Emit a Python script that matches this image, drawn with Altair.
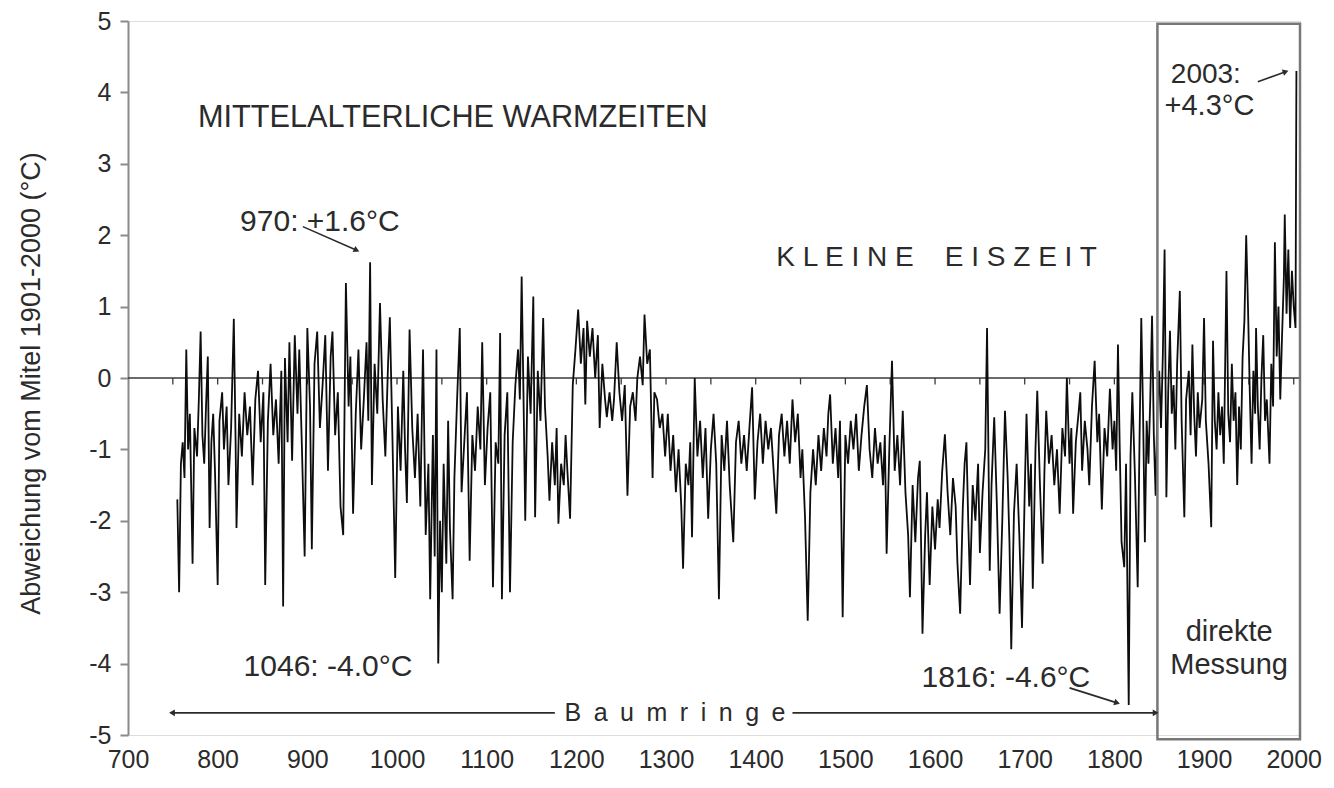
import altair as alt
import pandas as pd

# ---------------- data ----------------
years = [
    755, 757, 759, 761, 763, 765, 767, 769, 772, 774,
    777, 779, 781, 783, 785, 787, 789, 791, 793, 795,
    797, 800, 802, 805, 807, 810, 812, 815, 818, 820,
    821, 824, 827, 830, 833, 836, 839, 842, 845, 848,
    851, 853, 856, 859, 862, 865, 868, 871, 873, 875,
    878, 880, 883, 886, 889, 891, 894, 897, 900, 903,
    905, 908, 911, 914, 917, 920, 923, 926, 928, 931,
    934, 937, 940, 943, 946, 948, 951, 954, 957, 960,
    963, 966, 968, 970, 972, 975, 978, 981, 984, 987,
    990, 992, 995, 998, 1001, 1004, 1007, 1009, 1011, 1014,
    1017, 1020, 1023, 1026, 1029, 1032, 1035, 1037, 1040, 1042,
    1044, 1046, 1048, 1050, 1052, 1055, 1057, 1059, 1062, 1064,
    1067, 1070, 1072, 1075, 1078, 1081, 1084, 1087, 1090, 1093,
    1095, 1098, 1101, 1104, 1107, 1110, 1113, 1115, 1117, 1120,
    1123, 1126, 1129, 1132, 1135, 1137, 1139, 1141, 1143, 1146,
    1149, 1152, 1154, 1157, 1160, 1163, 1165, 1168, 1170, 1173,
    1176, 1178, 1180, 1183, 1186, 1188, 1190, 1193, 1196, 1199,
    1202, 1205, 1208, 1210, 1212, 1215, 1218, 1221, 1224, 1226,
    1229, 1232, 1234, 1237, 1240, 1242, 1245, 1248, 1251, 1254,
    1257, 1260, 1263, 1266, 1268, 1271, 1274, 1276, 1279, 1282,
    1285, 1287, 1290, 1293, 1296, 1299, 1302, 1305, 1308, 1311,
    1314, 1317, 1319, 1322, 1325, 1327, 1329, 1332, 1335, 1338,
    1341, 1344, 1347, 1350, 1353, 1356, 1359, 1362, 1365, 1368,
    1371, 1375, 1378, 1381, 1384, 1387, 1390, 1393, 1396, 1399,
    1402, 1405, 1408, 1411, 1414, 1417, 1420, 1423, 1426, 1429,
    1432, 1435, 1438, 1441, 1444, 1447, 1450, 1452, 1455, 1458,
    1461, 1464, 1467, 1470, 1473, 1476, 1479, 1481, 1483, 1486,
    1489, 1492, 1494, 1497, 1500, 1503, 1506, 1509, 1512, 1515,
    1518, 1521, 1524, 1527, 1530, 1533, 1536, 1539, 1542, 1544,
    1546, 1549, 1552, 1555, 1558, 1561, 1564, 1567, 1570, 1572,
    1575, 1578, 1581, 1583, 1586, 1589, 1591, 1594, 1597, 1600,
    1603, 1605, 1608, 1611, 1614, 1617, 1620, 1623, 1625, 1628,
    1631, 1633, 1635, 1637, 1639, 1642, 1645, 1648, 1650, 1653,
    1656, 1658, 1661, 1663, 1666, 1669, 1672, 1675, 1678, 1681,
    1683, 1685, 1688, 1691, 1694, 1697, 1700, 1702, 1705, 1707,
    1709, 1712, 1714, 1717, 1720, 1722, 1724, 1727, 1730, 1733,
    1736, 1739, 1742, 1745, 1747, 1750, 1752, 1754, 1757, 1760,
    1762, 1764, 1767, 1770, 1772, 1775, 1778, 1781, 1783, 1786,
    1789, 1792, 1795, 1798, 1800, 1802, 1804, 1806, 1808, 1811,
    1813, 1816, 1818, 1820, 1823, 1826, 1828, 1830, 1832, 1834,
    1836, 1838, 1840, 1842, 1844, 1846, 1848, 1850, 1852, 1854,
    1856, 1858, 1860, 1862, 1864, 1866, 1868, 1870, 1873, 1875,
    1878, 1880, 1883, 1885, 1887, 1889, 1891, 1893, 1895, 1898,
    1900, 1902, 1905, 1908, 1910, 1912, 1914, 1916, 1918, 1920,
    1922, 1925, 1927, 1929, 1931, 1933, 1935, 1937, 1939, 1941,
    1943, 1945, 1947, 1949, 1951, 1953, 1955, 1957, 1958, 1960,
    1962, 1964, 1966, 1968, 1970, 1973, 1975, 1977, 1979, 1981,
    1983, 1985, 1987, 1989, 1990, 1992, 1994, 1996, 1998, 2000,
    2002, 2003,
]

temps = [
    -1.7, -3.0, -1.2, -0.9, -1.4, 0.4, -1.0, -0.5, -2.6, -0.7,
    -1.1, -0.3, 0.65, -0.8, -1.2, -0.4, 0.3, -2.1, -0.9, -0.5,
    -1.3, -2.9, -0.6, -0.2, -1.0, -0.4, -1.5, -0.7, 0.83, -0.9,
    -2.1, -0.5, -1.1, -0.2, -0.8, -0.4, -1.5, -0.3, 0.1, -0.9,
    -0.2, -2.9, -0.6, 0.2, -0.8, -0.3, -1.2, 0.1, -3.2, 0.28,
    -0.9, 0.5, -1.16, 0.6, -0.5, 0.4, -1.0, -2.5, 0.7, -0.4,
    -2.4, 0.2, 0.65, -0.7, -0.1, 0.6, -1.3, 0.3, 0.65, -0.8,
    -0.2, -1.8, -2.2, 1.33, -0.4, 0.3, -1.9, -0.5, 0.4, -1.0,
    -0.3, 0.5, -0.6, 1.62, -1.5, 0.2, -0.5, 1.05, -0.3, -1.1,
    0.2, 0.85, -0.9, -2.8, -0.4, -1.3, 0.1, -1.0, -1.75, 0.68,
    -0.7, -1.4, -0.5, -1.8, 0.4, -2.2, -1.2, -3.1, -0.8, -2.5,
    0.4, -4.0, -2.0, -3.0, -1.2, -2.6, -0.6, -2.1, -3.1, -1.4,
    -0.3, 0.7, -1.6, -0.9, -0.2, -2.56, -0.8, -1.3, -0.4, -1.0,
    0.5, -1.5, -0.7, -0.2, -2.93, -0.9, -1.2, 0.63, -3.1, -0.8,
    -0.2, -3.0, -0.9, -0.1, 0.4, -0.3, 1.42, -0.2, -2.0, 0.3,
    -0.5, 1.14, -1.95, 0.1, -0.6, 0.84, -0.4, -1.1, -1.72, -0.9,
    -1.5, -0.7, -2.04, -1.2, -1.5, -0.8, -1.3, -1.97, -0.1, 0.4,
    0.96, 0.2, 0.7, -0.37, 0.8, 0.3, 0.7, 0.0, 0.6, -0.7,
    0.2, -0.3, -0.55, -0.2, -0.6, -0.3, 0.5, -0.2, -0.6, -0.1,
    -1.65, -0.4, -0.2, -0.6, 0.0, 0.3, -0.1, 0.89, 0.2, 0.4,
    -1.4, -0.2, -0.3, -0.7, -0.5, -1.1, -0.5, -1.3, -0.8, -1.6,
    -1.0, -1.8, -2.67, -1.2, -1.5, -0.9, -2.23, 0.0, -1.1, -0.6,
    -1.4, -0.7, -1.97, -1.0, -0.5, -1.2, -3.1, -0.8, -1.3, -0.6,
    -1.5, -2.3, -0.9, -0.6, -1.2, -0.8, -1.3, -0.7, -0.13, -1.7,
    -0.9, -0.5, -1.2, -0.6, -1.0, -0.7, -1.3, -1.9, -0.8, -0.5,
    -1.1, -0.6, -1.2, -0.3, -0.9, -0.5, -1.4, -1.0, -1.95, -3.4,
    -1.6, -1.0, -1.5, -0.8, -1.3, -0.7, -1.1, -0.5, -0.23, -1.2,
    -0.7, -1.4, -0.6, -3.35, -0.8, -1.2, -0.6, -1.0, -0.5, -1.3,
    -0.8, -0.4, -0.1, -1.0, -1.4, -0.7, -1.2, -0.9, -1.5, -0.8,
    -2.46, -1.0, 0.24, -1.3, -0.8, -1.5, -0.46, -1.6, -2.2, -3.07,
    -1.5, -2.3, -1.4, -1.16, -3.58, -2.2, -1.6, -2.9, -1.8, -2.4,
    -1.7, -2.1, -1.3, -0.79, -1.6, -2.2, -1.4, -1.8, -2.6, -3.3,
    -1.8, -1.2, -0.9, -2.0, -2.9, -1.5, -2.0, -1.2, -2.45, -1.6,
    -1.0, 0.7, -2.7, -1.5, -0.55, -1.8, -3.3, -2.0, -0.46, -1.4,
    -2.3, -3.8, -1.9, -1.2, -2.2, -3.5, -1.6, -0.5, -1.8, -1.2,
    -2.95, -1.0, -0.18, -1.5, -2.6, -1.3, -0.46, -1.2, -0.8, -1.5,
    -1.0, -1.9, -0.7, -1.1, 0.0, -1.2, -0.7, -1.9, -0.9, -0.5,
    -0.2, -1.3, -0.6, -1.0, -1.5, -0.4, 0.24, -0.9, -0.5, -1.84,
    -0.7, -1.1, -0.15, -1.0, -0.6, -1.3, 0.47, -1.0, -2.3, -2.65,
    -1.2, -4.58, -1.1, -0.2, -1.4, -2.93, -0.9, 0.84, -0.5, -2.3,
    -0.6, -1.2, -0.3, 0.87, -0.8, -1.65, -0.4, 0.1, -0.7, 0.3,
    1.8, -1.67, -0.2, 0.66, -0.5, -0.1, -1.0, 0.2, 1.22, -0.6,
    -1.95, -0.3, 0.1, -0.8, 0.47, -0.5, -1.1, -0.2, -0.7, -0.3,
    0.84, -0.6, -1.2, -2.09, 0.52, -0.6, -1.0, -0.2, -0.8, -0.4,
    -1.2, 1.5, -0.5, -0.9, 0.2, -0.6, -0.2, -1.5, -0.4, -1.0,
    0.3, 0.8, 2.0, 1.0, -0.2, -1.2, 0.1, -0.5, 0.7, -0.4,
    -1.0, 0.0, 0.6, -0.6, -0.3, -1.2, 0.2, -0.4, 1.9, 0.3,
    1.0, -0.3, 0.6, 1.4, 2.29, 0.9, 1.8, 0.7, 1.5, 1.0,
    0.7, 4.3,
]

x_label_years = [700, 800, 900, 1000, 1100, 1200, 1300, 1400,
                 1500, 1600, 1700, 1800, 1900, 2000]
zero_tick_years = [750, 800, 850, 900, 950, 1000, 1050, 1100, 1150, 1200,
                   1250, 1300, 1350, 1400, 1450, 1500, 1550, 1600, 1650,
                   1700, 1750, 1800, 1850, 1900, 1950, 2000]
y_tick_values = [-5, -4, -3, -2, -1, 0, 1, 2, 3, 4, 5]

# annotations (text, year position, value position, font size)
ann_text = ["970: +1.6°C", "1046: -4.0°C", "1816: -4.6°C",
            "2003:", "+4.3°C", "direkte", "Messung"]
ann_x = [914, 923, 1679, 1902, 1906, 1928, 1928]
ann_y = [2.19, -4.05, -4.2, 4.25, 3.81, -3.56, -4.02]
ann_size = [30, 30, 30, 28, 29, 29, 29]

title_warm = "MITTELALTERLICHE WARMZEITEN"
title_cold = "K L E I N E\u00a0\u00a0\u00a0\u00a0E I S Z E I T"
title_rings = "B\u2002a\u2002u\u2002m\u2002r\u2002i\u2002n\u2002g\u2002e"

# arrows: start/end points in data coordinates, head angle
arr_x1 = [895, 1750, 1960, 1176, 1441]
arr_y1 = [2.12, -4.34, 4.15, -4.69, -4.69]
arr_x2 = [955, 1803, 1991, 749, 1846]
arr_y2 = [1.79, -4.55, 4.29, -4.69, -4.69]
arr_angle = [24, 18, 340, 180, 0]

# box of direct measurements
box_x = [1848, 2007]
box_y = [4.96, -5.06]

# ---------------- chart ----------------
FONT = "Liberation Sans, Arial, sans-serif"
TXT = "#2b2b2b"
GRAY = "#8a8a8a"

X_DOM = [700, 2007]
Y_DOM = [-5, 5]

series = pd.DataFrame({"year": years, "temp": temps})

xs = alt.Scale(domain=X_DOM, nice=False, zero=False)
ys = alt.Scale(domain=Y_DOM, nice=False, zero=False)

line = alt.Chart(series).mark_line(color="#0d0d0d", strokeWidth=1.8).encode(
    x=alt.X("year:Q", scale=xs,
            axis=alt.Axis(values=x_label_years, labelExpr="datum.value + ''",
                          ticks=False, domain=False, grid=False, title=None,
                          labelFontSize=25, labelFont=FONT, labelColor=TXT,
                          labelPadding=12, labelFlush=False)),
    y=alt.Y("temp:Q", scale=ys,
            axis=alt.Axis(values=y_tick_values, labelExpr="datum.value + ''",
                          grid=False,
                          tickSize=8, tickWidth=2, tickColor=GRAY,
                          domainColor=GRAY, domainWidth=2,
                          labelFontSize=25, labelFont=FONT, labelColor=TXT,
                          labelPadding=9,
                          title="Abweichung vom Mitel 1901-2000 (°C)",
                          titleFont=FONT, titleFontSize=27,
                          titleFontWeight="normal", titleColor=TXT,
                          titleAngle=270, titleX=-97, titleY=362,
                          titleAlign="center", titleBaseline="middle")),
)

zero_df = pd.DataFrame({"x0": [X_DOM[0]], "x1": [X_DOM[1]], "y": [0]})
zero_line = alt.Chart(zero_df).mark_rule(color="#3a3a3a", strokeWidth=1.6).encode(
    x=alt.X("x0:Q", scale=xs), x2="x1:Q", y=alt.Y("y:Q", scale=ys))

ticks_df = pd.DataFrame({"year": zero_tick_years,
                         "y0": [0] * len(zero_tick_years),
                         "y1": [-0.09] * len(zero_tick_years)})
zero_ticks = alt.Chart(ticks_df).mark_rule(color="#3a3a3a", strokeWidth=1.3).encode(
    x=alt.X("year:Q", scale=xs), y=alt.Y("y0:Q", scale=ys), y2="y1:Q")

box_df = pd.DataFrame({"x0": [box_x[0]], "x1": [box_x[1]],
                       "y0": [box_y[0]], "y1": [box_y[1]]})
box = alt.Chart(box_df).mark_rect(filled=False, stroke="#777777",
                                  strokeWidth=2.5).encode(
    x=alt.X("x0:Q", scale=xs), x2="x1:Q",
    y=alt.Y("y0:Q", scale=ys), y2="y1:Q")

ann_df = pd.DataFrame({"t": ann_text, "x": ann_x, "y": ann_y, "s": ann_size})
ann = alt.Chart(ann_df).mark_text(font=FONT, color=TXT, align="center",
                                  baseline="middle").encode(
    x=alt.X("x:Q", scale=xs), y=alt.Y("y:Q", scale=ys),
    text="t:N", size=alt.Size("s:Q", scale=None, legend=None))

big_df = pd.DataFrame({"t": [title_warm], "x": [778], "y": [3.645]})
big = alt.Chart(big_df).mark_text(font=FONT, color=TXT, align="left",
                                  baseline="middle", fontSize=30.7).encode(
    x=alt.X("x:Q", scale=xs), y=alt.Y("y:Q", scale=ys), text="t:N")

cold_df = pd.DataFrame({"t": [title_cold], "x": [1601.6], "y": [1.676]})
cold = alt.Chart(cold_df).mark_text(font=FONT, color=TXT, align="center",
                                    baseline="middle", fontSize=28).encode(
    x=alt.X("x:Q", scale=xs), y=alt.Y("y:Q", scale=ys), text="t:N")

rings_df = pd.DataFrame({"t": [title_rings], "x": [1310], "y": [-4.69]})
rings = alt.Chart(rings_df).mark_text(font=FONT, color=TXT, align="center",
                                      baseline="middle", fontSize=25).encode(
    x=alt.X("x:Q", scale=xs), y=alt.Y("y:Q", scale=ys), text="t:N")

arr_df = pd.DataFrame({"x1": arr_x1, "y1": arr_y1, "x2": arr_x2,
                       "y2": arr_y2, "a": arr_angle})
arr_lines = alt.Chart(arr_df).mark_rule(color="#2b2b2b", strokeWidth=1.6).encode(
    x=alt.X("x1:Q", scale=xs), y=alt.Y("y1:Q", scale=ys),
    x2="x2:Q", y2="y2:Q")
arr_heads = alt.Chart(arr_df).mark_point(shape="triangle-right", filled=True,
                                         color="#2b2b2b", size=45,
                                         opacity=1).encode(
    x=alt.X("x2:Q", scale=xs), y=alt.Y("y2:Q", scale=ys),
    angle=alt.Angle("a:Q", scale=None))

chart = alt.layer(
    zero_line, zero_ticks, line, box, arr_lines, arr_heads,
    ann, big, cold, rings,
).properties(
    width=1172, height=714,
    padding={"left": 120, "top": 13, "right": 26, "bottom": 45},
    autosize=alt.AutoSizeParams(type="none"),
).configure_view(
    stroke=GRAY, strokeWidth=2,
).configure(background="white")

chart.save("out.html", embed_options={"renderer": "svg", "actions": False})
